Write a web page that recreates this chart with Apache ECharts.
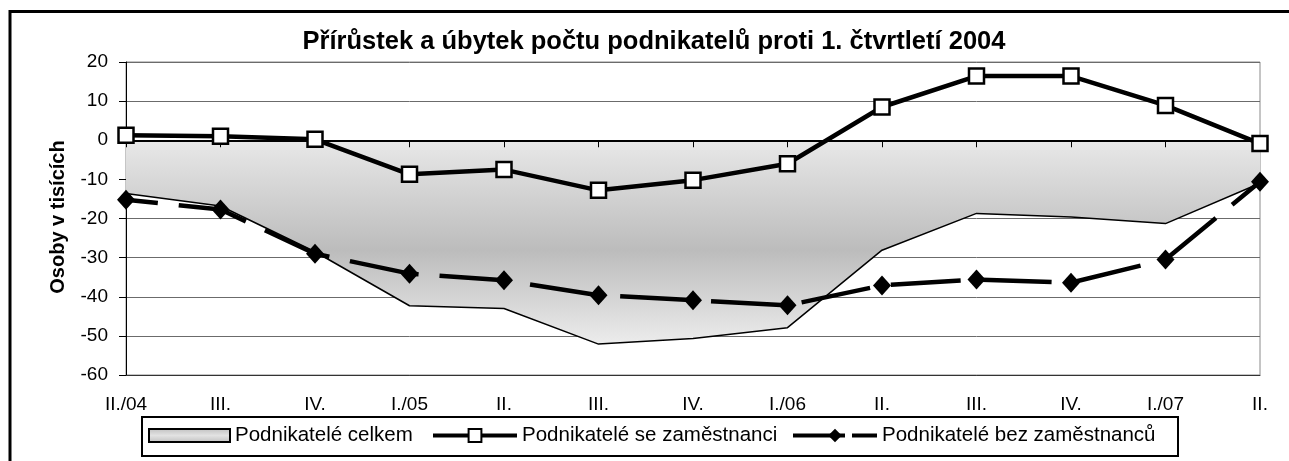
<!DOCTYPE html>
<html><head><meta charset="utf-8">
<script src="https://cdn.jsdelivr.net/npm/echarts@6/dist/echarts.min.js"></script>
<style>html,body{margin:0;padding:0;background:#fff}#c{width:1289px;height:461px}</style>
</head><body><div id="c"></div>
<script>
// ---- data ----
const categories = ['II./04','III.','IV.','I./05','II.','III.','IV.','I./06','II.','III.','IV.','I./07','II.'];
const celkem = [-13.6, -16.8, -28.5, -42.3, -43.0, -52.1, -50.7, -47.9, -28.1, -18.7, -19.6, -21.3, -11.0];
const seZamestnanci = [1.3, 1.0, 0.25, -8.7, -7.5, -12.8, -10.2, -6.0, 8.5, 16.4, 16.4, 8.9, -0.85];
const bezZamestnancu = [-15.2, -17.7, -29.0, -34.1, -35.8, -39.6, -40.9, -42.2, -37.1, -35.6, -36.4, -30.5, -10.6];
const yMin = -60, yMax = 20, yStep = 10;
const seriesNames = ['Podnikatelé celkem', 'Podnikatelé se zaměstnanci', 'Podnikatelé bez zaměstnanců'];
const titleText = 'Přírůstek a úbytek počtu podnikatelů proti 1. čtvrtletí 2004';
const yName = 'Osoby v tisících';

const FONT = "'Liberation Sans', Arial, sans-serif";
const chart = echarts.init(document.getElementById('c'), null, {renderer: 'canvas'});

const areaGrad = new echarts.graphic.LinearGradient(0, 0, 0, 1, [
  {offset: 0, color: '#e8e8e8'},
  {offset: 0.54, color: '#bcbcbc'},
  {offset: 1, color: '#ececec'}
]);
const legendGrad = new echarts.graphic.LinearGradient(0, 0, 0, 1, [
  {offset: 0, color: '#bfbfbf'},
  {offset: 0.5, color: '#e2e2e2'},
  {offset: 1, color: '#bfbfbf'}
]);

const legendText = {fontSize: 20.5, fontFamily: FONT, color: '#000'};

chart.setOption({
  animation: false,
  backgroundColor: '#fff',
  grid: {left: 126, right: 29, top: 62, bottom: 86, show: true, borderColor: '#8a8a8a', borderWidth: 1, backgroundColor: 'transparent'},
  xAxis: [
    {
      type: 'category', data: categories, boundaryGap: false, position: 'bottom',
      axisLine: {show: true, onZero: false, lineStyle: {color: '#333', width: 1}},
      axisTick: {show: false},
      axisLabel: {interval: 0, margin: 20, fontSize: 19, fontFamily: FONT, color: '#000'},
      splitLine: {show: false}
    },
    {
      type: 'category', data: categories, boundaryGap: false, position: 'bottom', z: 2,
      axisLine: {show: true, onZero: true, lineStyle: {color: '#000', width: 2}},
      axisTick: {show: true, length: 7, inside: false, lineStyle: {color: '#000', width: 1}},
      axisLabel: {show: false},
      splitLine: {show: false}
    }
  ],
  yAxis: {
    type: 'value', min: yMin, max: yMax, interval: yStep,
    axisLine: {show: true, lineStyle: {color: '#000', width: 1}},
    axisTick: {show: true, length: 7, lineStyle: {color: '#000', width: 1}},
    axisLabel: {margin: 18, fontSize: 19, fontFamily: FONT, color: '#000'},
    splitLine: {show: true, lineStyle: {color: '#6b6b6b', width: 1}}
  },
  legend: [
    {
      left: 148, top: 425, padding: 0, itemWidth: 81, itemHeight: 13, selectedMode: false,
      textStyle: legendText,
      data: [{name: seriesNames[0], icon: 'rect', itemStyle: {color: legendGrad, borderColor: '#000', borderWidth: 2}}]
    },
    {
      left: 431, top: 425, padding: 0, itemWidth: 84, itemHeight: 16, selectedMode: false,
      textStyle: legendText,
      data: [{name: seriesNames[1], lineStyle: {width: 4, color: '#000'}}]
    },
    {
      left: 791, top: 425, padding: 0, itemWidth: 84, itemHeight: 17, selectedMode: false,
      textStyle: legendText,
      data: [{name: seriesNames[2], lineStyle: {width: 4, color: '#000', type: [52, 7], dashOffset: 0}}]
    }
  ],
  graphic: [
    {type: 'rect', silent: true, z: 0, shape: {x: 10, y: 11.5, width: 1300, height: 500},
      style: {fill: 'none', stroke: '#000', lineWidth: 3}},
    {type: 'rect', silent: true, z: 0, shape: {x: 142, y: 417, width: 1036, height: 39},
      style: {fill: '#fff', stroke: '#000', lineWidth: 2}},
    {type: 'text', silent: true, x: 654, y: 42,
      style: {text: titleText, font: "bold 25.5px 'Liberation Sans', Arial, sans-serif", fill: '#000', textAlign: 'center', textVerticalAlign: 'middle'}},
    {type: 'text', silent: true, x: 58, y: 217, rotation: Math.PI / 2,
      style: {text: yName, font: "bold 20px 'Liberation Sans', Arial, sans-serif", fill: '#000', textAlign: 'center', textVerticalAlign: 'middle'}}
  ],
  series: [
    {
      name: seriesNames[0], type: 'line', data: celkem, z: 1,
      showSymbol: false, symbol: 'none',
      itemStyle: {color: '#c4c4c4'},
      lineStyle: {color: '#000', width: 1.5},
      areaStyle: {color: areaGrad, opacity: 1, origin: 0}
    },
    {
      name: seriesNames[1], type: 'line', data: seZamestnanci, z: 4,
      symbol: 'rect', symbolSize: 15,
      itemStyle: {color: '#fff', borderColor: '#000', borderWidth: 2.5},
      lineStyle: {color: '#000', width: 4.5}
    },
    {
      name: seriesNames[2], type: 'line', data: bezZamestnancu, z: 3,
      symbol: 'diamond', symbolSize: [18, 20],
      itemStyle: {color: '#000', borderColor: '#000', borderWidth: 0},
      lineStyle: {color: '#000', width: 4.5, type: [70, 21], dashOffset: 38}
    }
  ]
});
</script>
</body></html>
